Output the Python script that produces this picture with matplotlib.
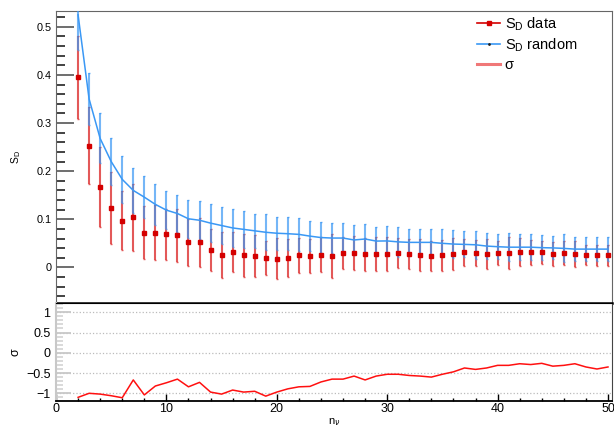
import numpy as np
import matplotlib.pyplot as plt
from matplotlib.lines import Line2D
from matplotlib.ticker import MultipleLocator, FuncFormatter

plt.rcParams['font.family'] = ['Liberation Sans', 'DejaVu Sans']

n_nu = list(range(2, 51))

sd_data = [0.395, 0.253, 0.167, 0.123, 0.097, 0.104, 0.072, 0.072, 0.069, 0.067,
           0.052, 0.052, 0.036, 0.025, 0.032, 0.025, 0.0235, 0.019, 0.018, 0.0195, 0.025,
           0.0235, 0.026, 0.0235, 0.030, 0.030, 0.027, 0.0277, 0.028, 0.0297, 0.0277, 0.0256, 0.0235, 0.025, 0.0277,
           0.031, 0.0305, 0.0277, 0.030, 0.030, 0.0318, 0.031, 0.031, 0.0277, 0.029, 0.0277, 0.025, 0.025, 0.025]
sd_data_err = [0.087, 0.080, 0.084, 0.075, 0.061, 0.070, 0.055, 0.057, 0.053, 0.055,
               0.049, 0.051, 0.043, 0.048, 0.042, 0.044, 0.044, 0.035, 0.043, 0.040, 0.036,
               0.0355, 0.0365, 0.0455, 0.0335, 0.036, 0.034, 0.0347, 0.036, 0.031, 0.031, 0.0326, 0.031, 0.032, 0.034,
               0.0276, 0.027, 0.032, 0.0257, 0.033, 0.029, 0.0262, 0.024, 0.025, 0.025, 0.0277, 0.021, 0.022, 0.022]

sd_random = [0.525, 0.350, 0.268, 0.220, 0.183, 0.160, 0.146, 0.131, 0.119, 0.112,
             0.101, 0.098, 0.092, 0.087, 0.082, 0.079, 0.076, 0.073, 0.071, 0.070, 0.0686,
             0.065, 0.062, 0.061, 0.061, 0.057, 0.059, 0.0547, 0.055, 0.053, 0.052, 0.052, 0.052, 0.050, 0.0485,
             0.0478, 0.047, 0.0443, 0.043, 0.042, 0.042, 0.042, 0.041, 0.0405, 0.0395, 0.038, 0.038, 0.038, 0.038]
sd_random_err = [0.073, 0.055, 0.052, 0.049, 0.049, 0.046, 0.044, 0.042, 0.040, 0.039,
                 0.040, 0.039, 0.039, 0.038, 0.039, 0.038, 0.036, 0.037, 0.034, 0.034, 0.035,
                 0.031, 0.0315, 0.032, 0.032, 0.032, 0.032, 0.030, 0.032, 0.031, 0.028, 0.028, 0.028, 0.029, 0.0285,
                 0.027, 0.029, 0.0264, 0.0256, 0.0287, 0.027, 0.027, 0.0255, 0.024, 0.029, 0.0244, 0.0244, 0.0244, 0.0244]

sigma = [-1.10, -1.00, -1.02, -1.06, -1.11, -0.67, -1.04, -0.82, -0.74, -0.65,
         -0.84, -0.73, -0.97, -1.02, -0.92, -0.97, -0.95, -1.07, -0.97, -0.89, -0.84,
         -0.83, -0.72, -0.65, -0.65, -0.575, -0.67, -0.575, -0.53, -0.53, -0.56, -0.575, -0.60, -0.53, -0.47,
         -0.375, -0.41, -0.375, -0.31, -0.31, -0.27, -0.29, -0.26, -0.33, -0.31, -0.27, -0.35, -0.40, -0.35]

red = '#d40000'
blue = '#3a98f5'

fig = plt.figure(figsize=(6.14, 4.28), dpi=100)
ax_top = fig.add_axes([0.0912, 0.2921, 0.9055, 0.6822])
ax_bot = fig.add_axes([0.0912, 0.0631, 0.9055, 0.2290])

# upper pad: S_D for data and random
ax_top.errorbar(n_nu, sd_data, yerr=sd_data_err, fmt='none', ecolor=red,
                elinewidth=1.5, capsize=1, alpha=0.65, zorder=2)
ax_top.errorbar(n_nu, sd_random, yerr=sd_random_err, fmt='none', ecolor=blue,
                elinewidth=1.5, capsize=1, alpha=0.7, zorder=3)
ax_top.plot(n_nu, sd_random, color=blue, lw=1.1, zorder=4)
ax_top.plot(n_nu, sd_data, 's', color=red, ms=2.6, zorder=5)

ax_top.set_xlim(0, 50.36)
ax_top.set_ylim(-0.074, 0.533)
ax_top.set_xticks([])
ax_top.yaxis.set_major_locator(MultipleLocator(0.1))
ax_top.yaxis.set_minor_locator(MultipleLocator(0.02))
ax_top.yaxis.set_major_formatter(FuncFormatter(lambda v, pos: f'{v:g}' if abs(v) > 1e-9 else '0'))
ax_top.tick_params(axis='y', which='major', direction='in', length=13, width=1.2,
                   color='#555555', labelsize=7.8, pad=3)
ax_top.tick_params(axis='y', which='minor', direction='in', length=6.5, width=1.2,
                   color='#222222')
ax_top.set_ylabel('S$_\\mathregular{D}$', fontsize=7.5, labelpad=10)
for side in ['top', 'right', 'left']:
    ax_top.spines[side].set_color('#666666')
ax_top.spines['bottom'].set_linewidth(1.8)
ax_top.spines['bottom'].set_color('black')
ax_top.spines['bottom'].set_zorder(10)

handles = [
    Line2D([], [], color=red, lw=1.2, marker='s', ms=2.3),
    Line2D([], [], color=blue, lw=1.2, marker='.', ms=2, mfc='#222222', mec='#222222'),
    Line2D([], [], color='#f07878', lw=2.2),
]
labels = ['S$_\\mathregular{D}$ data', 'S$_\\mathregular{D}$ random', 'σ']
ax_top.legend(handles, labels, loc='upper left', bbox_to_anchor=(0.757, 0.986),
              frameon=False, fontsize=10.5, borderpad=0, borderaxespad=0,
              handlelength=1.6, handletextpad=0.3, labelspacing=0.25)

# lower pad: significance
ax_bot.plot(n_nu, sigma, color='#ff1010', lw=1.1)
ax_bot.set_xlim(0, 50.36)
ax_bot.set_ylim(-1.19, 1.23)
ax_bot.xaxis.set_major_locator(MultipleLocator(10))
ax_bot.xaxis.set_minor_locator(MultipleLocator(2))
ax_bot.yaxis.set_major_locator(MultipleLocator(0.5))
ax_bot.yaxis.set_minor_locator(MultipleLocator(0.1))
ax_bot.yaxis.grid(True, which='major', linestyle=':', color='#bbbbbb', lw=0.9)
ax_bot.tick_params(axis='x', which='major', direction='in', length=5, width=1,
                   labelsize=9, pad=1.5)
ax_bot.tick_params(axis='x', which='minor', direction='in', length=2.5, width=1)
ax_bot.tick_params(axis='y', which='major', direction='in', length=11, width=1.3,
                   color='#c8c8c8', labelsize=9, pad=4)
ax_bot.tick_params(axis='y', which='minor', direction='in', length=5, width=1.1,
                   color='#d0d0d0')
ax_bot.tick_params(top=False, right=False)
ax_bot.set_yticks([-1, -0.5, 0, 0.5, 1])
ax_bot.set_yticklabels(['\u22121', '\u22120.5', '0', '0.5', '1'])
ax_bot.set_ylabel('σ', fontsize=9, labelpad=3)
ax_bot.set_xlabel('n$_\\nu$', fontsize=8, labelpad=1)
ax_bot.spines['left'].set_color('#c8c8c8')
ax_bot.spines['left'].set_linewidth(1.5)
ax_bot.spines['right'].set_color('#444444')
ax_bot.spines['bottom'].set_linewidth(1.3)

fig.savefig('out.png', dpi=100)
